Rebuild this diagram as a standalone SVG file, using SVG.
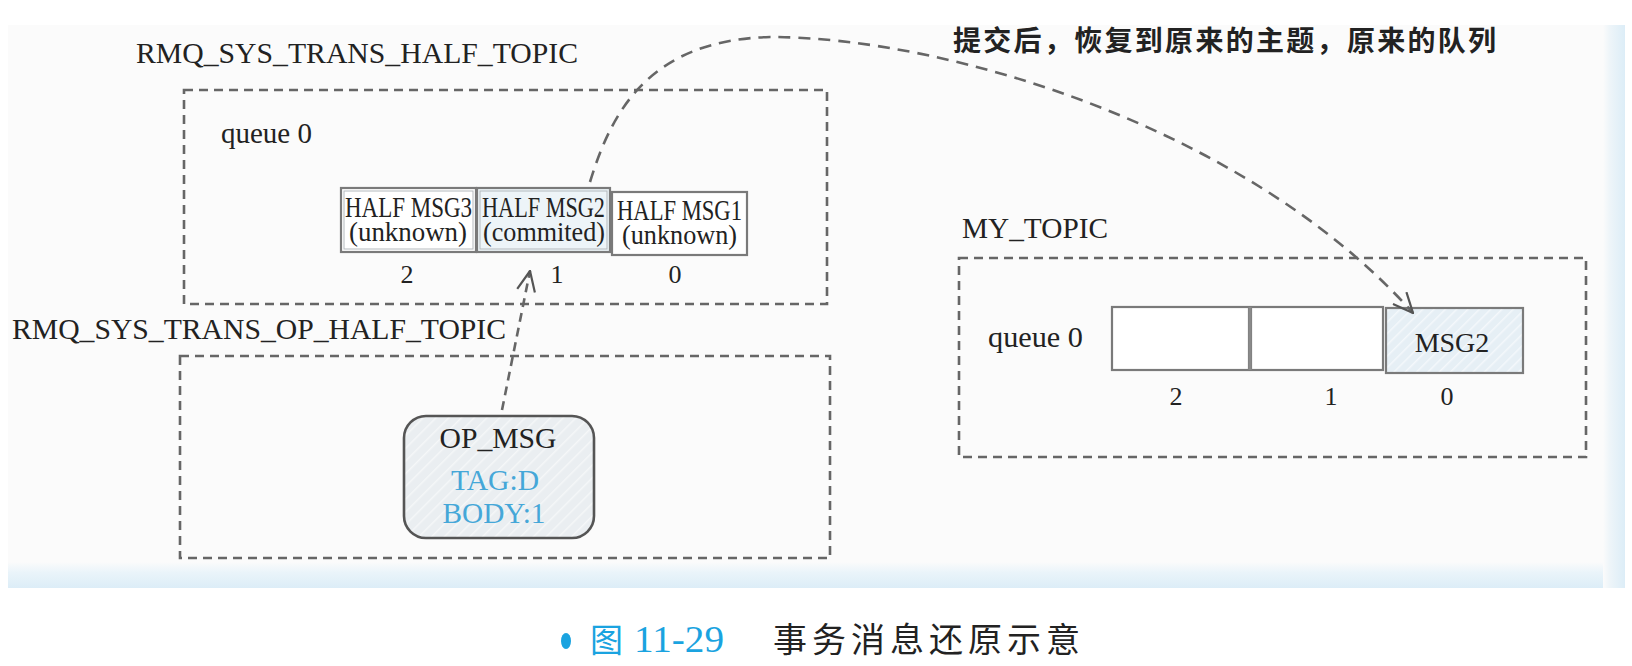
<svg xmlns="http://www.w3.org/2000/svg" width="1632" height="666" viewBox="0 0 1632 666">
<style>
.lbl{font-family:"Liberation Serif","Times New Roman",serif;fill:#222;}
.box{fill:none;stroke:#666;stroke-width:2.6;stroke-dasharray:9 6;}
.cell{stroke:#7a7a7a;stroke-width:2.2;}
.inner{fill:none;stroke:#b4b9bd;stroke-width:1;}
.conn{fill:none;stroke:#666;stroke-width:2.6;}
.cjk{font-family:"Noto Sans CJK SC","Noto Sans CJK JP",sans-serif;}
</style>
<defs>
<linearGradient id="gB" x1="0" y1="0" x2="0" y2="1">
<stop offset="0" stop-color="#fbfbfb"/><stop offset="0.4" stop-color="#eaf4fa"/><stop offset="1" stop-color="#dcedf7"/>
</linearGradient>
<linearGradient id="gR" x1="0" y1="0" x2="1" y2="0">
<stop offset="0" stop-color="#fbfbfb"/><stop offset="0.3" stop-color="#eef5f9"/><stop offset="1" stop-color="#dcedf7"/>
</linearGradient>
<pattern id="hatchBlue" width="8" height="8" patternUnits="userSpaceOnUse" patternTransform="rotate(45)">
<rect width="8" height="8" fill="#e6eff5"/><line x1="0" y1="0" x2="0" y2="8" stroke="#f4f8fb" stroke-width="3"/>
</pattern>
<pattern id="hatchGray" width="9" height="9" patternUnits="userSpaceOnUse" patternTransform="rotate(45)">
<rect width="9" height="9" fill="#eaeef1"/><line x1="0" y1="0" x2="0" y2="9" stroke="#f5f7f8" stroke-width="3"/>
</pattern>
<marker id="arr" markerUnits="userSpaceOnUse" markerWidth="22" markerHeight="20" viewBox="0 0 22 20" refX="21" refY="10" orient="auto">
<path d="M1,1 L21,10 L1,19" fill="none" stroke="#555" stroke-width="2.2" stroke-dasharray="none"/>
</marker>
</defs>

<g id="background">
<rect x="0" y="0" width="1632" height="666" fill="#ffffff"/>
<rect x="8" y="25" width="1617" height="563" fill="#fbfbfb"/>
<rect x="8" y="562" width="1617" height="26" fill="url(#gB)"/>
<rect x="1603" y="25" width="22" height="563" fill="url(#gR)"/>
</g>

<g id="half-topic">
<text class="lbl" x="136" y="63" font-size="30" textLength="442" lengthAdjust="spacingAndGlyphs">RMQ_SYS_TRANS_HALF_TOPIC</text>
<rect class="box" x="184" y="90" width="643" height="214"/>
<text class="lbl" x="221" y="143" font-size="29">queue 0</text>
</g>

<g id="half-msg3">
<rect class="cell" x="341" y="188" width="135" height="64" fill="#ffffff"/>
<rect class="inner" x="344" y="191" width="129" height="58"/>
<text class="lbl" x="345" y="217" font-size="29" textLength="127" lengthAdjust="spacingAndGlyphs">HALF MSG3</text>
<text class="lbl" x="349" y="241" font-size="28" textLength="118" lengthAdjust="spacingAndGlyphs">(unknown)</text>
<text class="lbl" x="407" y="283" font-size="26" text-anchor="middle">2</text>
</g>

<g id="half-msg2">
<rect class="cell" x="477" y="188" width="133" height="64" fill="#edf4f8"/>
<rect class="inner" x="480" y="191" width="127" height="58"/>
<text class="lbl" x="482" y="217" font-size="29" textLength="123" lengthAdjust="spacingAndGlyphs">HALF MSG2</text>
<text class="lbl" x="483" y="241" font-size="28" textLength="122" lengthAdjust="spacingAndGlyphs">(commited)</text>
<text class="lbl" x="557" y="283" font-size="26" text-anchor="middle">1</text>
</g>

<g id="half-msg1">
<rect class="cell" x="612" y="192" width="135" height="63" fill="#ffffff"/>
<text class="lbl" x="617" y="220" font-size="29" textLength="125" lengthAdjust="spacingAndGlyphs">HALF MSG1</text>
<text class="lbl" x="622" y="244" font-size="28" textLength="115" lengthAdjust="spacingAndGlyphs">(unknown)</text>
<text class="lbl" x="675" y="283" font-size="26" text-anchor="middle">0</text>
</g>

<g id="op-half-topic">
<text class="lbl" x="12" y="339" font-size="30" textLength="494" lengthAdjust="spacingAndGlyphs">RMQ_SYS_TRANS_OP_HALF_TOPIC</text>
<rect class="box" x="180" y="356" width="650" height="202"/>
</g>

<g id="op-msg">
<rect x="404" y="416" width="190" height="122" rx="22" ry="22" fill="url(#hatchGray)" stroke="#555" stroke-width="2.6"/>
<text class="lbl" x="498" y="448" font-size="29" text-anchor="middle" textLength="117" lengthAdjust="spacingAndGlyphs">OP_MSG</text>
<text x="495" y="490" font-size="30" text-anchor="middle" fill="#45a7d8" font-family="Liberation Serif, serif" textLength="88" lengthAdjust="spacingAndGlyphs">TAG:D</text>
<text x="494" y="523" font-size="30" text-anchor="middle" fill="#45a7d8" font-family="Liberation Serif, serif" textLength="103" lengthAdjust="spacingAndGlyphs">BODY:1</text>
</g>

<g id="my-topic">
<text class="lbl" x="962" y="238" font-size="30" textLength="146" lengthAdjust="spacingAndGlyphs">MY_TOPIC</text>
<rect class="box" x="959" y="258" width="627" height="199"/>
<text class="lbl" x="988" y="347" font-size="29" textLength="95" lengthAdjust="spacingAndGlyphs">queue 0</text>
</g>

<g id="my-cell2">
<rect class="cell" x="1112" y="307" width="137" height="63" fill="#ffffff"/>
<text class="lbl" x="1176" y="405" font-size="26" text-anchor="middle">2</text>
</g>
<g id="my-cell1">
<rect class="cell" x="1251" y="307" width="132" height="63" fill="#ffffff"/>
<line x1="1250" y1="307" x2="1250" y2="370" stroke="#8a8a8a" stroke-width="3"/>
<text class="lbl" x="1331" y="405" font-size="26" text-anchor="middle">1</text>
</g>
<g id="my-cell0">
<rect class="cell" x="1386" y="308" width="137" height="65" fill="url(#hatchBlue)"/>
<text class="lbl" x="1452" y="352" font-size="28" text-anchor="middle">MSG2</text>
<text class="lbl" x="1447" y="405" font-size="26" text-anchor="middle">0</text>
</g>

<g id="note">
<text class="cjk" x="953" y="51" font-size="28" font-weight="700" letter-spacing="2.3" fill="#222">提交后，恢复到原来的主题，原来的队列</text>
</g>

<g id="connectors">
<path class="conn" d="M502,410 L530,271" stroke-dasharray="9 6" marker-end="url(#arr)"/>
<path class="conn" d="M590,182 C612,110 650,40 770,37 C950,37 1250,130 1413,313" stroke-dasharray="12 8" marker-end="url(#arr)"/>
</g>

<g id="caption">
<ellipse cx="566" cy="641" rx="5" ry="8" fill="#1aa3e0"/>
<text class="cjk" x="590" y="652" font-size="33" fill="#1aa3e0">图</text>
<text x="634" y="652" font-size="38" fill="#1aa3e0" font-family="Liberation Serif, serif" textLength="90" lengthAdjust="spacingAndGlyphs">11-29</text>
<text class="cjk" x="773" y="652" font-size="34" letter-spacing="5" fill="#222">事务消息还原示意</text>
</g>
</svg>
